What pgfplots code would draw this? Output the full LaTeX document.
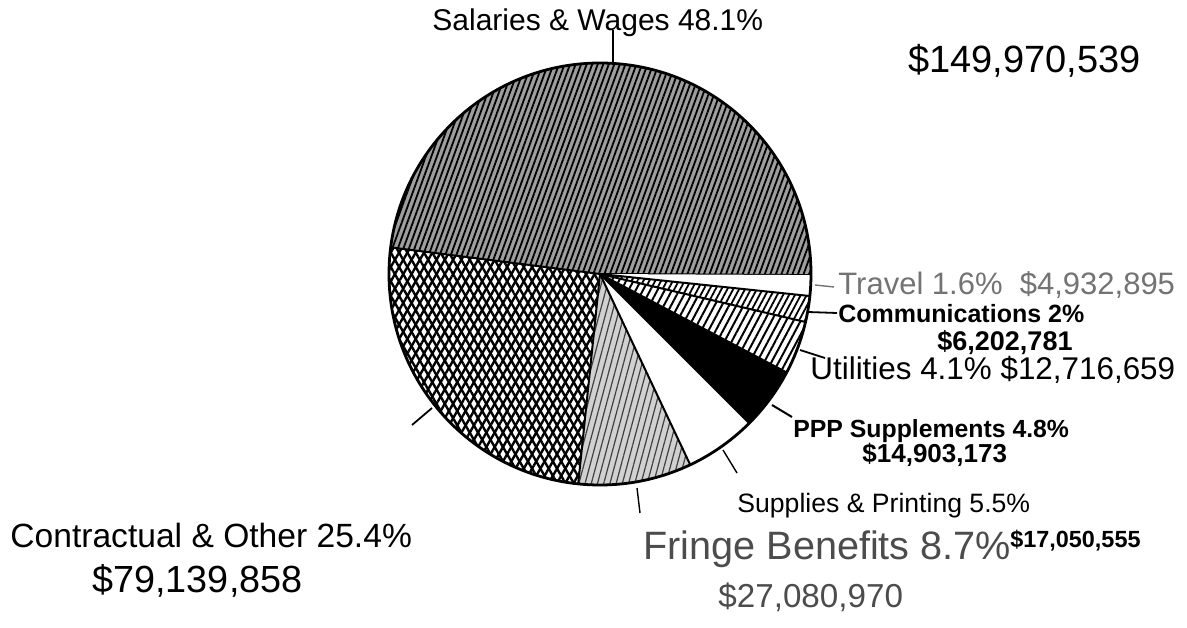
\documentclass[border=0pt]{standalone}
\usepackage{fontspec}
\setmainfont{Liberation Sans}
\usepackage{pgfplots}
\usepackage{pgfplotstable}
\pgfplotsset{compat=1.18}
\usetikzlibrary{patterns.meta}

% expenditure by object, in millions of dollars (pie goes counter-clockwise)
\pgfplotstableread{
item            value
Salaries        149.970539
Contractual     79.139858
Fringe          27.080970
Supplies        17.050555
PPP             14.903173
Utilities       12.716659
Communications  6.202781
Travel          4.932895
}\budget

\tikzset{
  slice0/.style={fill=black!38, postaction={pattern={Lines[angle=70,distance=2.6pt,line width=0.9pt]}}},
  slice1/.style={fill=white, postaction={pattern={Lines[angle=60,distance=3.6pt,line width=1.2pt]}},
                 postaction={pattern={Lines[angle=-60,distance=3.6pt,line width=1.2pt]}}},
  slice2/.style={fill=black!18, postaction={pattern={Lines[angle=75,distance=3pt,line width=0.6pt]}, pattern color=black!75}},
  slice3/.style={fill=white},
  slice4/.style={fill=black},
  slice5/.style={fill=white, postaction={pattern={Lines[angle=62,distance=3.2pt,line width=1pt]}}},
  slice6/.style={fill=white, postaction={pattern={Lines[angle=62,distance=2.6pt,line width=0.9pt]}}},
  slice7/.style={fill=white},
  lbl/.style={anchor=west, inner sep=0pt, text height=0.72em, text depth=0pt},
}
\newcommand\fs[1]{\fontsize{#1}{#1}\selectfont}

\begin{document}
\begin{tikzpicture}
\begin{axis}[x=0.5pt, y=0.5pt, xmin=0, xmax=1187, ymin=0, ymax=627,
    hide axis, clip=false]
  \pgfplotstablegetrowsof{\budget}
  \pgfmathtruncatemacro\nrows{\pgfplotsretval-1}
  \def\total{0}
  \pgfplotsforeachungrouped \i in {0,...,\nrows}{%
    \pgfplotstablegetelem{\i}{value}\of\budget
    \pgfmathsetmacro\total{\total+\pgfplotsretval}}
  \def\angA{-0.3}
  \pgfplotsforeachungrouped \i in {0,...,\nrows}{%
    \pgfplotstablegetelem{\i}{value}\of\budget
    \pgfmathsetmacro\angB{\angA+\pgfplotsretval/\total*360}
    \edef\temp{\noexpand\fill[slice\i] (axis cs:600,353) -- ++(\angA:105.5pt)
      arc[start angle=\angA, end angle=\angB, radius=105.5pt] -- cycle;
      \noexpand\draw[line width=1pt] (axis cs:600,353) -- ++(\angA:105.5pt);}
    \temp
    \let\angA=\angB
  }
  \draw[line width=1.4pt] (axis cs:600,353) circle[radius=105.5pt];

  % leader lines
  \draw[line width=0.9pt] (axis cs:613,563) -- (axis cs:613,597);
  \draw[line width=0.9pt] (axis cs:432,219) -- (axis cs:412,202);
  \draw[line width=0.7pt] (axis cs:637,139) -- (axis cs:640,114);
  \draw[line width=0.7pt] (axis cs:723,177) -- (axis cs:737,154);
  \draw[line width=1pt] (axis cs:772,222) -- (axis cs:792,210);
  \draw[line width=0.9pt] (axis cs:800,277) -- (axis cs:825,269);
  \draw[line width=0.9pt] (axis cs:808,315) -- (axis cs:837,314);
  \draw[line width=0.7pt, black!55] (axis cs:815,342) -- (axis cs:834,340);

  % labels
  \node[lbl, font=\fs{15}] at (axis cs:432,604) {Salaries \& Wages 48.1\%};
  \node[lbl, font=\fs{19}] at (axis cs:908,562) {\$149,970,539};
  \node[lbl, font=\fs{15.5}, text=black!55] at (axis cs:838,340) {Travel 1.6\%\ \ \$4,932,895};
  \node[lbl, font=\fs{12.5}\bfseries] at (axis cs:838,312) {Communications 2\%};
  \node[lbl, font=\fs{13.5}\bfseries] at (axis cs:937,284) {\$6,202,781};
  \node[lbl, font=\fs{15.7}] at (axis cs:810,255) {Utilities 4.1\%\ \$12,716,659};
  \node[lbl, font=\fs{12.4}\bfseries] at (axis cs:793,197) {PPP Supplements 4.8\%};
  \node[lbl, font=\fs{13}\bfseries] at (axis cs:862,172) {\$14,903,173};
  \node[lbl, font=\fs{13.3}] at (axis cs:737,122) {Supplies \& Printing 5.5\%};
  \node[lbl, font=\fs{11.7}\bfseries] at (axis cs:1010,87) {\$17,050,555};
  \node[lbl, font=\fs{16.8}] at (axis cs:10,87) {Contractual \& Other 25.4\%};
  \node[lbl, font=\fs{18.9}] at (axis cs:92,42) {\$79,139,858};
  \node[lbl, font=\fs{19.8}, text=black!70] at (axis cs:643,75) {Fringe Benefits 8.7\%};
  \node[lbl, font=\fs{16.6}, text=black!70] at (axis cs:718,27) {\$27,080,970};
\end{axis}
\pgfresetboundingbox
\useasboundingbox (0,0) rectangle (593.5pt,313.5pt);
\end{tikzpicture}
\end{document}
